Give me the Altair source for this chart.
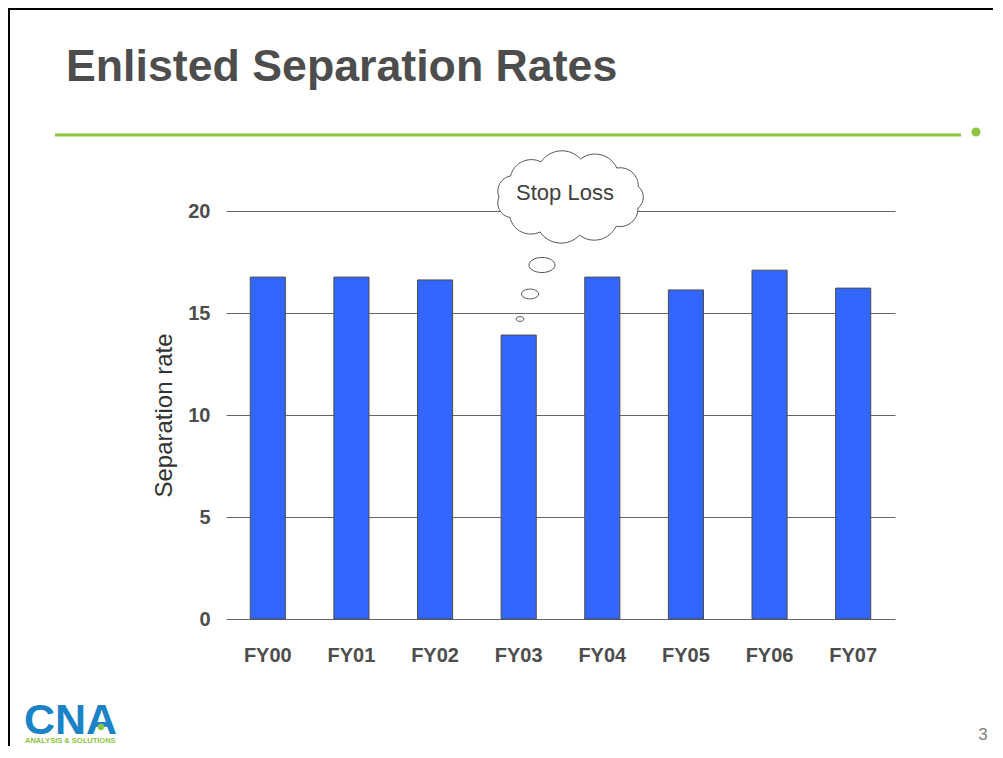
import math
import altair as alt
import pandas as pd

# ---- data ----
years = ["FY00", "FY01", "FY02", "FY03", "FY04", "FY05", "FY06", "FY07"]
rates = [16.76, 16.76, 16.62, 13.92, 16.76, 16.13, 17.10, 16.22]
y_ticks = [0, 5, 10, 15, 20]
title_text = "Enlisted Separation Rates"
y_title = "Separation rate"
note_text = "Stop Loss"
logo_text = "CNA"
tagline_text = "ANALYSIS & SOLUTIONS"
page_text = "3"

FONT = "Liberation Sans"
W, H = 669, 408
PAD_L, PAD_T = 218, 203
TOTAL_W, TOTAL_H = 985, 738

df = pd.DataFrame({"year": years, "rate": rates})
one = pd.DataFrame({"k": [0]})


def cloud_path(n=11, rx=71.0, ry=38.5, k=0.64, half=78.0, phase=-math.pi / 2 + 0.15):
    pts = []
    for i in range(n):
        a = phase + 2 * math.pi * i / n
        pts.append((rx * math.cos(a) / half, ry * math.sin(a) / half))
    d = "M%.4f,%.4f" % pts[0]
    for i in range(n):
        p0 = pts[i]
        p1 = pts[(i + 1) % n]
        chord = math.hypot(p1[0] - p0[0], p1[1] - p0[1])
        r = k * chord
        d += "A%.4f,%.4f,0,0,1,%.4f,%.4f" % (r, r, p1[0], p1[1])
    return d + "Z"


ELLIPSE = "M-1,0A1,0.58,0,1,1,1,0A1,0.58,0,1,1,-1,0Z"

bars = alt.Chart(df).mark_bar(fill="#3366ff", stroke="#4d4d4d", strokeWidth=1).encode(
    x=alt.X(
        "year:N",
        sort=years,
        scale=alt.Scale(paddingInner=0.58, paddingOuter=0.29),
        axis=alt.Axis(
            title=None, labelAngle=0, labelFont=FONT, labelFontSize=20,
            labelFontWeight="bold", labelColor="#4d4d4d", labelPadding=26,
            ticks=False, tickSize=0, domain=False, grid=False,
        ),
    ),
    y=alt.Y(
        "rate:Q",
        scale=alt.Scale(domain=[0, 20], nice=False),
        axis=alt.Axis(
            values=y_ticks, title=y_title, titleFont=FONT, titleFontSize=24,
            titleFontWeight="normal", titleColor="#333333", titleAngle=-90,
            titleX=-62, titleY=H / 2, titleAlign="center", titleBaseline="middle",
            labelFont=FONT, labelFontSize=20, labelFontWeight="bold",
            labelColor="#4d4d4d", labelPadding=16, ticks=False, tickSize=0,
            domain=False, grid=True, gridColor="#666666", gridWidth=1,
        ),
    ),
)


def txt(text, x, y, size, weight="normal", color="#4d4d4d", align="left", baseline="alphabetic"):
    return alt.Chart(one).mark_text(
        text=text, font=FONT, fontSize=size, fontWeight=weight, color=color,
        align=align, baseline=baseline,
    ).encode(x=alt.value(x), y=alt.value(y))


def hrule(x1, x2, y, color, width):
    return alt.Chart(one).mark_rule(color=color, strokeWidth=width).encode(
        x=alt.value(x1), x2=alt.value(x2), y=alt.value(y)
    )


def vrule(x, y1, y2, color, width):
    return alt.Chart(one).mark_rule(color=color, strokeWidth=width).encode(
        x=alt.value(x), y=alt.value(y1), y2=alt.value(y2)
    )


def shape(path, x, y, size, fill, stroke=None, sw=1):
    kw = dict(shape=path, filled=True, fill=fill, opacity=1, size=size)
    if stroke is not None:
        kw.update(stroke=stroke, strokeWidth=sw)
    else:
        kw.update(strokeWidth=0)
    return alt.Chart(one).mark_point(**kw).encode(x=alt.value(x), y=alt.value(y))


ox, oy = PAD_L + 8, PAD_T + 8  # page position of plot origin

layers = [
    bars,
    # thought cloud
    shape(cloud_path(), 570 - ox, 197 - oy, 156 ** 2, "white", "#555555", 1),
    txt(note_text, 565 - ox, 193 - oy, 22, color="#404040", align="center", baseline="middle"),
    shape(ELLIPSE, 542 - ox, 265 - oy, 26 ** 2, "white", "#555555", 1),
    shape(ELLIPSE, 530 - ox, 294 - oy, 17 ** 2, "white", "#555555", 1),
    shape(ELLIPSE, 520 - ox, 319 - oy, 8 ** 2, "white", "#555555", 1),
    # slide decorations
    txt(title_text, 66 - ox, 81 - oy, 44.7, weight="bold", color="#4d4d4d"),
    hrule(55 - ox, 961 - ox, 135 - oy, "#8cc63f", 3),
    shape("circle", 976 - ox, 132 - oy, 80, "#8cc63f"),
    hrule(8 - ox, 993 - ox, 9 - oy, "#000000", 2),
    vrule(9 - ox, 8 - oy, 746 - oy, "#000000", 2),
    txt(logo_text, 24 - ox, 734 - oy, 43, weight="bold", color="#1a82c6"),
    shape("circle", 101 - ox, 727 - oy, 40, "#8cc63f"),
    txt(tagline_text, 25 - ox, 743 - oy, 7.5, weight="bold", color="#8cc63f"),
    txt(page_text, 983 - ox, 740 - oy, 17, color="#808080", align="center"),
]

chart = alt.layer(*layers).properties(
    width=W,
    height=H,
    padding={"left": PAD_L, "top": PAD_T, "right": TOTAL_W - PAD_L - W, "bottom": TOTAL_H - PAD_T - H},
    autosize=alt.AutoSizeParams(type="none"),
    background="white",
).configure_view(stroke=None)

chart.save("out.html", embed_options={"renderer": "svg", "actions": False})
